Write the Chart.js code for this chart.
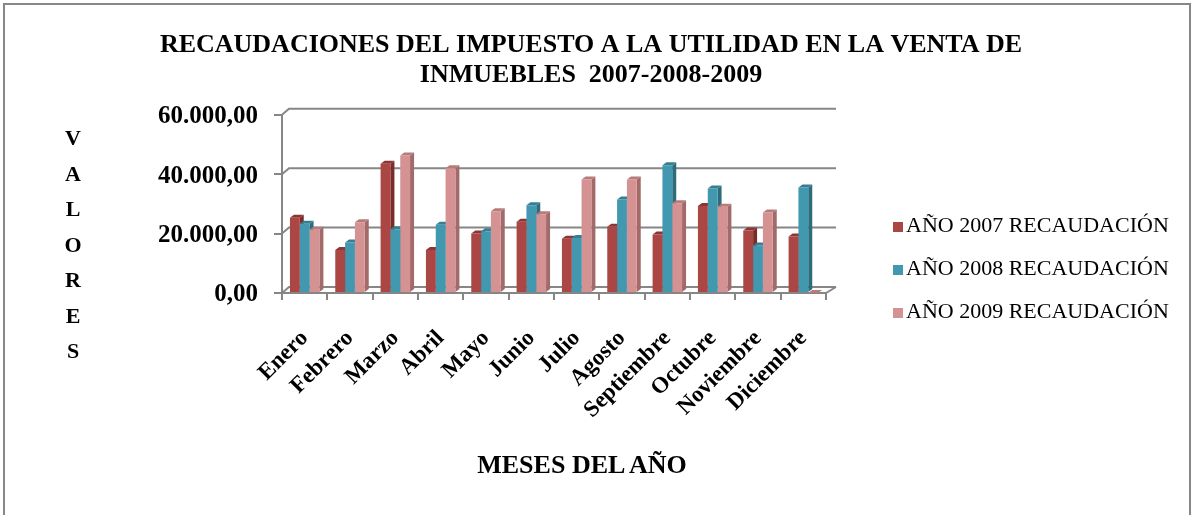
<!DOCTYPE html>
<html>
<head>
<meta charset="utf-8">
<script src="https://cdn.jsdelivr.net/npm/chart.js@4/dist/chart.umd.min.js"></script>
<style>
  html, body { margin: 0; padding: 0; background: #fff; overflow: hidden; }
  #wrap { position: relative; width: 1194px; height: 515px; }
  #chartBox { position: absolute; left: 0; top: 0; width: 1194px; height: 515px; }
  #frame { position: absolute; left: 3px; top: 3px; width: 1184px; height: 540px; border: 2px solid #878787; pointer-events: none; }
  .serif { font-family: 'Liberation Serif', 'Times New Roman', serif; color: #000; }
  #yTitle { position: absolute; left: 58px; top: 120px; width: 30px; text-align: center; font-weight: bold; font-size: 22px; line-height: 35.5px; }
  #xTitle { position: absolute; left: 382px; top: 450px; width: 400px; text-align: center; font-weight: bold; font-size: 26px; line-height: 30px; }
  #legend { position: absolute; left: 893px; top: 203px; }
  #legend .row { height: 43px; line-height: 43px; font-size: 22px; white-space: nowrap; }
  #legend .sw { display: inline-block; width: 10px; height: 10px; margin-right: 3px; vertical-align: 0px; }
</style>
</head>
<body>
<div id="wrap">
  <div id="chartBox"><canvas id="c"></canvas></div>
  <div id="yTitle" class="serif"></div>
  <div id="xTitle" class="serif"></div>
  <div id="legend" class="serif"></div>
  <div id="frame"></div>
</div>
<script>
// ---- data ----
const months = ['Enero', 'Febrero', 'Marzo', 'Abril', 'Mayo', 'Junio', 'Julio', 'Agosto', 'Septiembre', 'Octubre', 'Noviembre', 'Diciembre'];
const rec2007 = [25300, 14500, 43500, 14500, 20000, 24000, 18300, 22300, 19700, 29300, 21000, 19000];
const rec2008 = [23300, 17000, 21500, 23000, 20800, 29500, 18500, 31500, 43000, 35200, 16000, 35500];
const rec2009 = [21300, 23800, 46300, 42000, 27500, 26500, 38200, 38200, 30200, 29000, 27100, 0];
const seriesNames = ['AÑO 2007 RECAUDACIÓN', 'AÑO 2008 RECAUDACIÓN', 'AÑO 2009 RECAUDACIÓN'];
const yTickValues = [0, 20000, 40000, 60000];
const yTickLabels = ['0,00', '20.000,00', '40.000,00', '60.000,00'];
const titleLines = ['RECAUDACIONES DEL IMPUESTO A LA UTILIDAD EN LA VENTA DE', 'INMUEBLES  2007-2008-2009'];
const yAxisTitle = 'VALORES';
const xAxisTitle = 'MESES DEL AÑO';

// ---- styles ----
const frontColors = ['#AA4643', '#4198AF', '#D49392'];
const sideColors = ['#7A2C2A', '#2C6C7D', '#A26A68'];
const topColors = ['#8C3533', '#357F92', '#B87B79'];
const gridColor = '#868686';
const serif = "'Liberation Serif', 'Times New Roman', serif";
const DX = 7, DY = -6;      // back wall offset
const BX = 4, BY = -3;      // bar depth

// text blocks
document.getElementById('yTitle').innerHTML = yAxisTitle.split('').map(ch => '<div>' + ch + '</div>').join('');
document.getElementById('xTitle').textContent = xAxisTitle;
document.getElementById('legend').innerHTML = seriesNames.map((n, i) =>
  '<div class="row"><span class="sw" style="background:' + frontColors[i] + '"></span>' + n + '</div>').join('');

const wallPlugin = {
  id: 'wall3d',
  beforeDatasetsDraw(chart) {
    const { ctx, chartArea: a, scales } = chart;
    const y = scales.y;
    ctx.save();
    ctx.strokeStyle = gridColor;
    ctx.lineWidth = 2;
    yTickValues.forEach(v => {
      const py = y.getPixelForValue(v);
      ctx.beginPath();
      ctx.moveTo(a.left, py);
      ctx.lineTo(a.left + DX, py + DY);
      ctx.lineTo(a.right + DX + 3, py + DY);
      ctx.stroke();
    });
    ctx.beginPath();
    ctx.moveTo(a.right, a.bottom);
    ctx.lineTo(a.right + DX + 3, a.bottom + DY);
    ctx.stroke();
    chart.data.datasets.forEach((ds, di) => {
      const meta = chart.getDatasetMeta(di);
      meta.data.forEach(bar => {
        const l = bar.x - bar.width / 2, r = bar.x + bar.width / 2, t = bar.y, b = bar.base;
        ctx.fillStyle = sideColors[di];
        ctx.beginPath();
        ctx.moveTo(r, t); ctx.lineTo(r + BX, t + BY); ctx.lineTo(r + BX, b + BY); ctx.lineTo(r, b);
        ctx.closePath(); ctx.fill();
        ctx.fillStyle = topColors[di];
        ctx.beginPath();
        ctx.moveTo(l, t); ctx.lineTo(l + BX, t + BY); ctx.lineTo(r + BX, t + BY); ctx.lineTo(r, t);
        ctx.closePath(); ctx.fill();
      });
    });
    ctx.restore();
  }
};

const seriesValues = [rec2007, rec2008, rec2009];
new Chart(document.getElementById('c'), {
  type: 'bar',
  data: {
    labels: months,
    datasets: seriesValues.map((vals, i) => ({
      label: seriesNames[i],
      data: vals,
      backgroundColor: frontColors[i],
      borderWidth: 0,
      categoryPercentage: 0.65,
      barPercentage: 1.0
    }))
  },
  options: {
    responsive: true,
    maintainAspectRatio: false,
    animation: false,
    layout: { padding: { left: 0, right: 12, top: 0, bottom: 0 } },
    plugins: {
      legend: { display: false },
      tooltip: { enabled: false },
      title: {
        display: true,
        text: titleLines,
        color: '#000',
        font: { family: serif, size: 26, weight: 'bold', lineHeight: 1.13 },
        padding: { top: 31, bottom: 25 }
      }
    },
    scales: {
      x: {
        grid: { display: true, drawOnChartArea: false, drawTicks: true, tickLength: 7, color: gridColor, lineWidth: 2, offset: true },
        border: { display: true, color: gridColor, width: 2 },
        ticks: {
          autoSkip: false, maxRotation: 45, minRotation: 45, padding: 25,
          color: '#000', font: { family: serif, size: 23, weight: 'bold' }
        },
        afterFit(s) { s.height = 222; }
      },
      y: {
        min: 0, max: 60000,
        grid: { display: true, drawOnChartArea: false, drawTicks: true, tickLength: 8, color: gridColor, lineWidth: 2 },
        border: { display: true, color: gridColor, width: 2 },
        ticks: {
          stepSize: 20000, padding: 16, color: '#000', labelOffset: 2,
          font: { family: serif, size: 25, weight: 'bold' },
          callback(v) { const i = yTickValues.indexOf(v); return i >= 0 ? yTickLabels[i] : ''; }
        },
        afterFit(s) { s.width = 282; }
      },
      y2: {
        type: 'linear', position: 'right', display: true,
        grid: { display: false }, border: { display: false }, ticks: { display: false },
        afterFit(s) { s.width = 356; }
      }
    }
  },
  plugins: [wallPlugin]
});
</script>
</body>
</html>
